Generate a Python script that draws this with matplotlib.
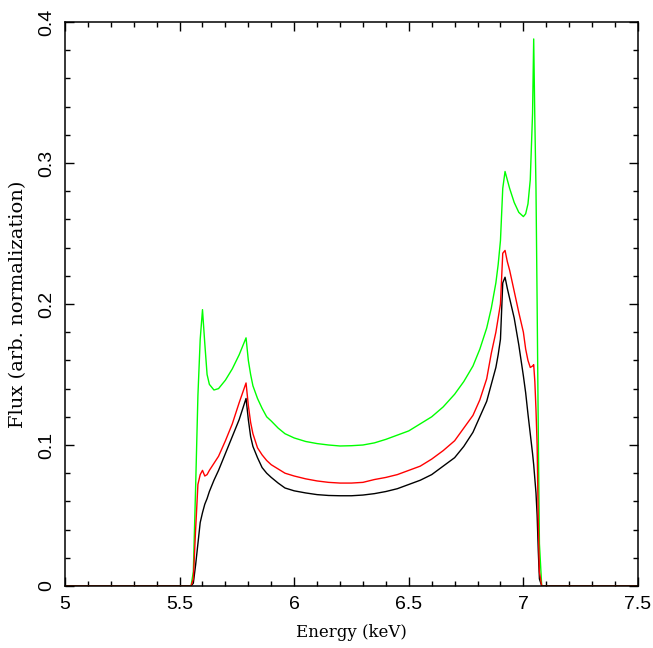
import matplotlib
matplotlib.use("Agg")
import matplotlib.pyplot as plt
from matplotlib.ticker import MultipleLocator

# energy grid (keV) shared by the three model spectra
energy = [5.00, 5.55, 5.56, 5.57, 5.58, 5.59, 5.60, 5.61, 5.62, 5.63, 5.65, 5.67,
          5.70, 5.73, 5.76, 5.79, 5.80, 5.81, 5.82, 5.84, 5.86, 5.88, 5.90, 5.93,
          5.96, 6.00, 6.05, 6.10, 6.15, 6.20, 6.25, 6.30, 6.35, 6.40, 6.45, 6.50,
          6.55, 6.60, 6.65, 6.70, 6.74, 6.78, 6.81, 6.84, 6.86, 6.88, 6.89, 6.90,
          6.91, 6.92, 6.93, 6.94, 6.96, 6.98, 7.00, 7.01, 7.02, 7.03, 7.04, 7.045,
          7.05, 7.055, 7.06, 7.065, 7.07, 7.08, 7.50]

flux_black = [0, 0, 0.002, 0.015, 0.030, 0.045, 0.052, 0.058, 0.062, 0.067, 0.075, 0.082,
              0.094, 0.106, 0.118, 0.133, 0.118, 0.106, 0.099, 0.091, 0.084, 0.080, 0.077, 0.073,
              0.0695, 0.0675, 0.066, 0.0648, 0.0642, 0.064, 0.064, 0.0645, 0.0655, 0.067, 0.069, 0.072,
              0.075, 0.079, 0.085, 0.091, 0.099, 0.109, 0.120, 0.131, 0.143, 0.155, 0.164, 0.175,
              0.215, 0.219, 0.211, 0.204, 0.190, 0.171, 0.149, 0.137, 0.122, 0.108, 0.094, 0.086,
              0.076, 0.066, 0.050, 0.025, 0.005, 0, 0]

flux_red = [0, 0, 0.005, 0.040, 0.072, 0.079, 0.082, 0.078, 0.079, 0.082, 0.087, 0.092,
            0.103, 0.115, 0.130, 0.144, 0.128, 0.116, 0.108, 0.098, 0.093, 0.089, 0.086, 0.083,
            0.080, 0.078, 0.076, 0.0745, 0.0735, 0.073, 0.073, 0.0735, 0.0755, 0.077, 0.079, 0.082,
            0.085, 0.090, 0.096, 0.103, 0.112, 0.121, 0.132, 0.147, 0.165, 0.180, 0.190, 0.200,
            0.236, 0.238, 0.230, 0.224, 0.209, 0.194, 0.180, 0.168, 0.160, 0.155, 0.156, 0.157,
            0.145, 0.125, 0.100, 0.045, 0.010, 0, 0]

flux_green = [0, 0, 0.010, 0.070, 0.135, 0.175, 0.196, 0.172, 0.150, 0.143, 0.139, 0.140,
              0.146, 0.154, 0.164, 0.176, 0.160, 0.150, 0.142, 0.133, 0.126, 0.120, 0.117, 0.112,
              0.108, 0.105, 0.1025, 0.101, 0.100, 0.0993, 0.0995, 0.100, 0.1015, 0.104, 0.107, 0.110,
              0.115, 0.120, 0.127, 0.136, 0.145, 0.156, 0.168, 0.183, 0.197, 0.215, 0.228, 0.245,
              0.282, 0.294, 0.288, 0.282, 0.272, 0.265, 0.262, 0.264, 0.271, 0.288, 0.335, 0.388,
              0.330, 0.282, 0.200, 0.110, 0.030, 0, 0]

x_ticks = [5, 5.5, 6, 6.5, 7, 7.5]
x_ticklabels = ["5", "5.5", "6", "6.5", "7", "7.5"]
y_ticks = [0, 0.1, 0.2, 0.3, 0.4]
y_ticklabels = ["0", "0.1", "0.2", "0.3", "0.4"]

fig = plt.figure(figsize=(6.53, 6.48), dpi=100)
ax = fig.add_axes([0.0995, 0.0957, 0.8775, 0.8703])

ax.plot(energy, flux_black, color='black', lw=1.0)
ax.plot(energy, flux_green, color='#00ff00', lw=1.0)
ax.plot(energy, flux_red, color='#ff0000', lw=1.0)

ax.set_xlim(5, 7.5)
ax.set_ylim(0, 0.4)

ax.set_xticks(x_ticks)
ax.set_xticklabels(x_ticklabels, family='Liberation Sans', fontsize=14)
ax.set_yticks(y_ticks)
ax.set_yticklabels(y_ticklabels, family='Liberation Sans', fontsize=14,
                   rotation=90, va='center')
ax.xaxis.set_minor_locator(MultipleLocator(0.1))
ax.yaxis.set_minor_locator(MultipleLocator(0.02))

ax.tick_params(which='both', direction='in', top=True, right=True, width=1.0)
ax.tick_params(which='major', length=6.5, pad=7)
ax.tick_params(which='minor', length=3.5)
for s in ax.spines.values():
    s.set_linewidth(1.1)

ax.set_xlabel("Energy (keV)", family='DejaVu Serif', fontsize=12, labelpad=8)
ax.set_ylabel("Flux (arb. normalization)", family='DejaVu Serif', fontsize=14, labelpad=8)

fig.savefig("out.png", dpi=100)
